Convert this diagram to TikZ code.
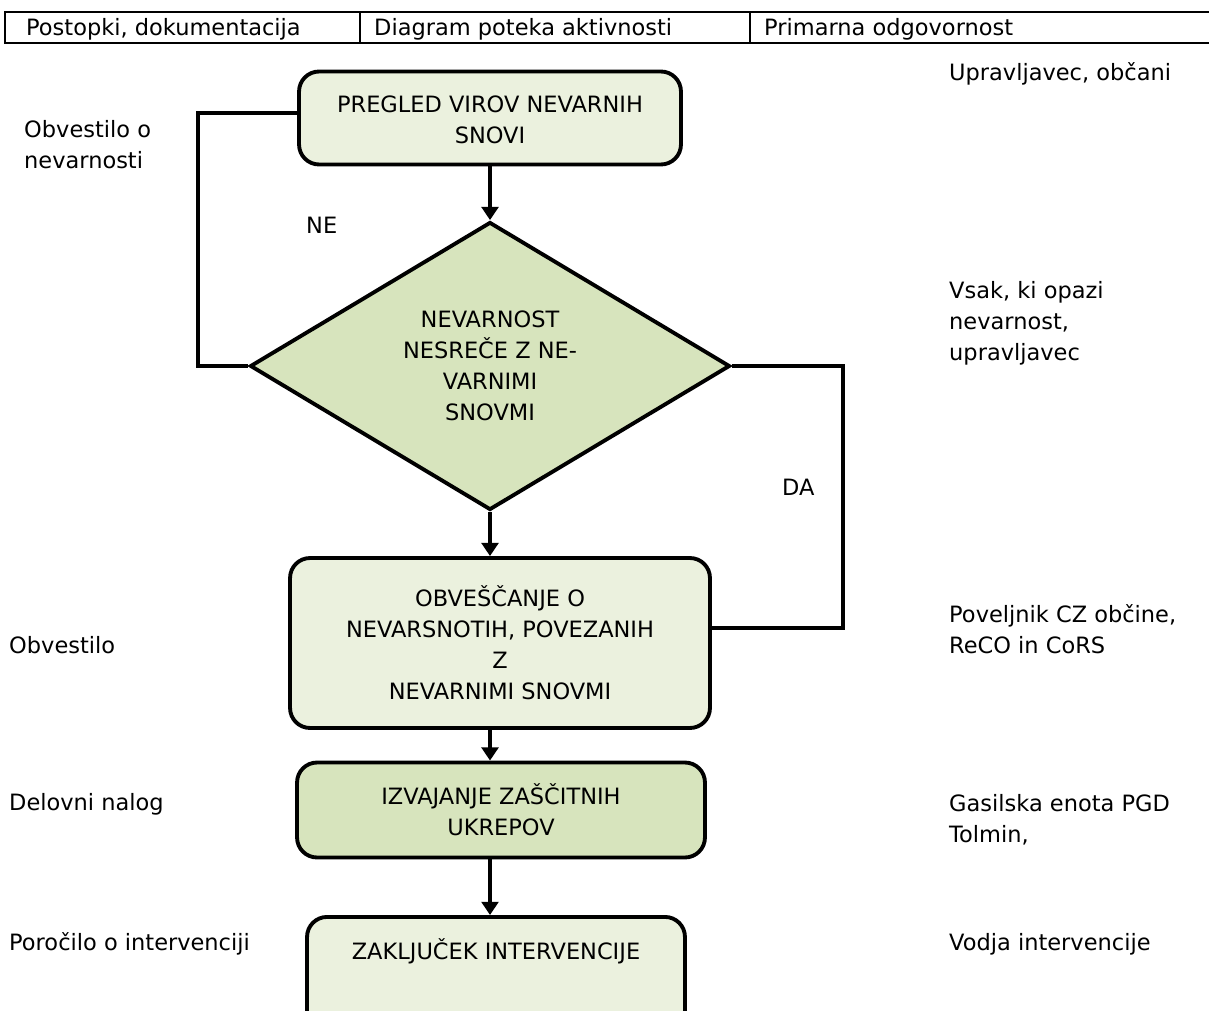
\documentclass[tikz,border=0pt]{standalone}
\usepackage{fontspec}
\setmainfont{DejaVu Sans}
\usetikzlibrary{shapes.geometric,arrows.meta}
\definecolor{lightbox}{HTML}{EBF1DE}
\definecolor{darkbox}{HTML}{D7E4BD}
\begin{document}
\begin{tikzpicture}[x=0.02cm,y=-0.02cm,
    font=\fontsize{12.8}{17.6}\selectfont,
    stepbox/.style={draw,line width=2.2pt,rounded corners=0.4cm,align=center,inner sep=0pt},
    decision/.style={draw,line width=2.2pt,diamond,aspect=1.67,inner sep=0pt,align=center,fill=darkbox},
    flow/.style={line width=2pt,-{Triangle[length=7.5pt,width=9.5pt]}},
    loop/.style={line width=2.5pt},
    label/.style={anchor=west,align=left}]
    \useasboundingbox (0,0) rectangle (1209,1010);

    % header
    \draw[line width=1pt] (5,12) rectangle (1220,43);
    \draw[line width=1pt] (360,12) to (360,43);
    \draw[line width=1pt] (750,12) to (750,43);
    \node[label] (h1) at (20,29) {Postopki, dokumentacija};
    \node[label] (h2) at (368,29) {Diagram poteka aktivnosti};
    \node[label] (h3) at (758,29) {Primarna odgovornost};

    % flow
    \node[stepbox,fill=lightbox,minimum width=7.64cm,minimum height=1.86cm] (pregled) at (490,118) {\\[-0.2cm]PREGLED VIROV NEVARNIH\\SNOVI};
    \node[decision,minimum width=9.6cm,minimum height=5.76cm] (nevarnost) at (490,366) {NEVARNOST\\NESREČE Z NE-\\VARNIMI\\SNOVMI};
    \node[stepbox,fill=lightbox,minimum width=8.4cm,minimum height=3.4cm] (obvescanje) at (500,643) {OBVEŠČANJE O\\NEVARSNOTIH, POVEZANIH\\Z\\NEVARNIMI SNOVMI};
    \node[stepbox,fill=darkbox,minimum width=8.16cm,minimum height=1.9cm] (izvajanje) at (501,810) {IZVAJANJE ZAŠČITNIH\\UKREPOV};
    \node[stepbox,fill=lightbox,minimum width=7.56cm,anchor=north,inner ysep=0.3cm,text height=0.56cm,text depth=1.3cm] (zakljucek) at (496,915) {ZAKLJUČEK INTERVENCIJE};

    \draw[flow] (pregled.south) to (nevarnost.north);
    \draw[flow] (nevarnost.south) to (nevarnost.south |- obvescanje.north);
    \draw[flow] (nevarnost.south |- obvescanje.south) to (nevarnost.south |- izvajanje.north);
    \draw[flow] (nevarnost.south |- izvajanje.south) to (nevarnost.south |- zakljucek.north);

    \coordinate (nebend) at (198,366);
    \coordinate (dabend) at (843,366);
    \draw[loop] ([yshift=0.1cm]pregled.west) -| (nebend) to (nevarnost.west);
    \draw[loop] (nevarnost.east) to (dabend) |- ([yshift=0.3cm]obvescanje.east);
    \node[anchor=west] (ne) at (300,225) {NE};
    \node[anchor=west] (da) at (776,487) {DA};

    % documents
    \node[label] (doc1) at (18,145) {Obvestilo o\\nevarnosti};
    \node[label] (doc2) at (3,645) {Obvestilo};
    \node[label] (doc3) at (3,804) {Delovni nalog};
    \node[label] (doc4) at (3,944) {Poročilo o intervenciji};

    % responsibility
    \node[label] (resp1) at (943,74) {Upravljavec, občani};
    \node[label] (resp2) at (943,323) {Vsak, ki opazi\\nevarnost,\\upravljavec};
    \node[label] (resp3) at (943,629) {Poveljnik CZ občine,\\ReCO in CoRS};
    \node[label] (resp4) at (943,820) {Gasilska enota PGD\\Tolmin,};
    \node[label] (resp5) at (943,944) {Vodja intervencije};
\end{tikzpicture}
\end{document}
